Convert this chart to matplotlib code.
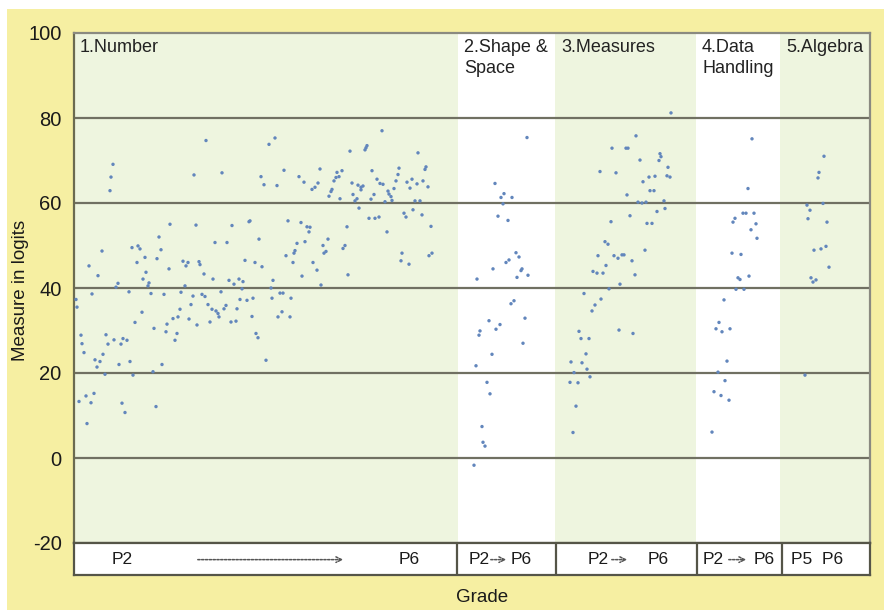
# Person measures by strand, P2 -> P6
import matplotlib.pyplot as plt
from matplotlib.patches import Rectangle

plt.rcParams['font.family'] = ['Liberation Sans', 'DejaVu Sans']

# Strand names and where each strand sits along the x axis
strands = ['1.Number', '2.Shape &\nSpace', '3.Measures', '4.Data\nHandling', '5.Algebra']
panel_edges = [0, 384, 481, 622, 706, 796]
box_edges = [0, 383, 482, 623, 708, 796]

# Number
number_x = [2, 3, 7, 8, 10, 15, 18, 21, 23, 24, 26, 28, 29, 31, 32, 34, 40, 42, 44, 45,
            47, 49, 53, 55, 56, 58, 59, 61, 63, 64, 66, 68, 69, 71, 72, 74, 75, 77, 79, 80,
            83, 85, 87, 88, 90, 92, 93, 95, 96, 99, 101, 103, 104, 106, 107, 109, 111, 112, 114, 115,
            117, 119, 122, 123, 125, 126, 128, 130, 131, 134, 136, 138, 139, 141, 142, 144, 145, 147, 150, 152,
            153, 155, 157, 158, 160, 162, 163, 165, 166, 168, 169, 171, 173, 175, 176, 178, 179, 181, 182, 184,
            185, 188, 192,
            5, 12, 13, 17, 20, 48, 51, 82,
            39, 37, 36, 132, 120, 148, 195, 187, 190, 201, 203, 210, 225,
            308, 276, 291, 292, 293, 344, 246, 230, 238, 241, 244, 255, 257, 258, 260, 262, 263, 265, 268, 266,
            278, 279, 281, 283, 284, 287, 289, 287, 285, 295, 297, 298, 300, 301, 303, 305, 306, 309, 311, 313,
            314, 315, 317, 318, 320, 322, 324, 325, 330, 332, 333, 336, 338, 339, 341, 343, 346, 348, 349, 351,
            352, 354, 357, 327, 328, 335, 355, 358,
            214, 227, 233, 236, 235, 231, 223, 221, 220, 212, 219, 228, 239, 243, 247, 249, 250, 252, 254, 269,
            271, 273, 274, 199, 197, 198, 206, 209, 217, 208, 204, 216]
number_y = [37.3, 35.5, 28.9, 26.9, 24.8, 45.2, 38.6, 23.1, 21.4, 42.9, 22.7, 48.7, 24.4, 19.7, 29.0, 26.8, 27.8, 40.2, 41.1, 22.0,
            26.8, 28.1, 27.7, 39.1, 22.7, 49.5, 19.5, 31.9, 46.0, 49.9, 49.2, 34.3, 42.1, 47.2, 43.7, 40.5, 41.2, 38.7, 20.3, 30.5,
            46.9, 52.0, 49.0, 22.0, 38.5, 29.7, 31.5, 44.5, 55.0, 32.8, 27.7, 29.3, 33.2, 35.0, 39.0, 46.3, 40.5, 45.2, 46.0, 32.7,
            36.1, 38.1, 54.8, 31.3, 46.2, 45.5, 38.5, 43.3, 38.0, 36.1, 32.0, 35.0, 42.1, 50.7, 34.6, 34.0, 33.2, 39.1, 35.1, 35.9,
            50.7, 41.8, 32.0, 54.7, 40.9, 32.2, 35.1, 42.1, 37.3, 39.8, 41.5, 46.5, 37.1, 55.6, 55.8, 33.3, 37.6, 46.0, 29.3, 28.3,
            51.5, 45.0, 23.0,
            13.3, 14.6, 8.1, 13.0, 15.2, 12.9, 10.7, 12.1,
            69.1, 66.1, 62.9, 74.7, 66.6, 67.1, 73.8, 66.2, 64.3, 75.3, 64.1, 67.7, 66.2,
            77.0, 72.2, 72.5, 73.0, 73.5, 71.8, 68.0, 64.9, 63.2, 63.7, 64.7, 61.6, 62.7, 63.2, 65.2, 66.0, 67.2, 66.2, 67.6, 61.0,
            64.7, 62.0, 60.5, 61.0, 64.2, 63.7, 64.0, 63.1, 58.8, 56.4, 60.9, 67.6, 62.0, 56.4, 65.6, 56.7, 64.6, 64.4, 60.3, 53.2,
            62.8, 62.1, 61.5, 60.6, 63.4, 65.2, 66.7, 68.2, 57.6, 56.7, 64.9, 63.5, 65.6, 58.4, 60.5, 64.5, 60.5, 57.2, 65.2, 67.9,
            68.5, 63.8, 54.5, 46.4, 48.2, 45.6, 47.6, 48.2,
            55.8, 55.4, 54.4, 54.3, 53.2, 50.9, 50.5, 48.8, 48.2, 47.6, 46.0, 42.8, 46.0, 44.2, 40.7, 50.0, 48.2, 48.6, 51.5, 49.3,
            50.0, 54.4, 43.1, 41.8, 40.0, 37.6, 38.8, 38.8, 37.6, 34.4, 33.2, 33.2]

# Shape & Space
shape_x = [421, 430, 427, 438, 429, 424, 434, 442, 445, 435, 432, 419, 448, 447, 454, 443, 403, 440,
           437, 451, 415, 426, 422, 406, 405, 449, 418, 402, 413, 416, 408, 409, 411, 400, 453]
shape_y = [64.6, 62.2, 61.3, 61.3, 59.8, 56.9, 55.9, 48.3, 47.3, 46.6, 46.0, 44.5, 44.5, 44.1, 43.0, 42.5, 42.1, 37.0,
           36.3, 32.9, 32.3, 31.4, 30.3, 29.9, 28.9, 27.0, 24.4, 21.7, 17.8, 15.1, 7.4, 3.7, 2.8, -1.7, 75.4]

# Measures
measures_x = [597, 562, 538, 552, 554, 566, 586, 587, 585, 594, 526, 542, 569, 575, 581, 593, 596, 576, 580, 553,
              590, 564, 568, 572, 591, 583, 556, 537, 573, 578, 531, 534, 571, 524, 540, 544, 548, 550, 558, 532,
              519, 523, 529, 561, 546, 535, 510, 527, 521, 518, 505, 545, 559, 507, 515, 512, 497, 508, 513, 500,
              516, 496, 504, 502, 499]
measures_y = [81.2, 75.8, 72.9, 72.9, 72.9, 70.1, 71.6, 70.9, 70.0, 68.4, 67.4, 67.1, 65.0, 66.1, 66.3, 66.4, 66.1, 62.9, 62.9, 61.9,
              60.5, 60.2, 60.0, 60.2, 58.7, 58.0, 57.0, 55.6, 55.2, 55.2, 50.9, 50.3, 48.9, 47.6, 47.6, 47.0, 47.8, 47.8, 46.4, 45.3,
              43.9, 43.5, 43.5, 43.1, 40.9, 39.8, 38.7, 37.4, 36.0, 34.6, 29.8, 30.1, 29.3, 28.1, 28.1, 24.5, 22.6, 22.4, 20.9, 20.1,
              19.1, 17.8, 17.7, 12.2, 6.0]

# Data Handling
data_x = [678, 674, 669, 672, 680, 661, 659, 682, 677, 683, 658, 667, 675, 664, 666, 662, 670, 650, 645, 642,
          648, 656, 653, 644, 651, 640, 647, 655, 638]
data_y = [75.1, 63.4, 57.6, 57.6, 57.6, 56.4, 55.5, 55.1, 53.7, 51.7, 48.2, 47.9, 42.8, 42.4, 42.0, 39.7, 39.7, 37.2, 31.9, 30.4,
          29.7, 30.4, 22.8, 20.2, 18.2, 15.6, 14.7, 13.6, 6.1]

# Algebra
algebra_x = [750, 745, 744, 733, 749, 736, 734, 753, 752, 747, 740, 755, 737, 742, 739, 731]
algebra_y = [71.0, 67.2, 65.9, 59.5, 59.9, 58.3, 56.3, 55.5, 49.8, 49.2, 48.9, 44.9, 42.4, 41.9, 41.4, 19.5]

yticks = [-20, 0, 20, 40, 60, 80, 100]

green = '#EEF5DF'
yellow = '#F6EFA2'
dot = '#6286BC'
grid = '#707062'
ink = '#1a1a1a'

fig = plt.figure(figsize=(8.84, 6.10), dpi=100)
fig.patch.set_facecolor('white')
fig.patches.append(Rectangle((7 / 884, 0), 1, 1 - 9 / 610, transform=fig.transFigure,
                             facecolor=yellow, edgecolor='none', zorder=-10))

ax = fig.add_axes([74 / 884, 1 - 543 / 610, 796 / 884, 510 / 610])
ax.set_facecolor('white')
ax.set_xlim(0, 796)
ax.set_ylim(-20, 100)

# Alternate green / white strand panels
for i in range(len(strands)):
    if i % 2 == 0:
        ax.axvspan(panel_edges[i], panel_edges[i + 1], color=green, zorder=0, lw=0)

for y in [0, 20, 40, 60, 80]:
    ax.axhline(y, color=grid, lw=1.6, zorder=1)

for xs, ys in [(number_x, number_y), (shape_x, shape_y), (measures_x, measures_y),
               (data_x, data_y), (algebra_x, algebra_y)]:
    ax.scatter(xs, ys, s=6, color=dot, edgecolors='none', zorder=3)

# Strand titles
for i, name in enumerate(strands):
    ax.text(panel_edges[i] + 6, 98.6, name, ha='left', va='top', fontsize=13,
            color='#222222', linespacing=1.3, zorder=4)

ax.set_xticks([])
ax.set_yticks(yticks)
ax.set_yticklabels([str(t) for t in yticks], fontsize=14.5, color=ink)
ax.tick_params(axis='y', length=0, pad=9)
ax.spines['left'].set_color('#6B6B50')
ax.spines['left'].set_linewidth(1.6)
for s in ['top', 'right']:
    ax.spines[s].set_color('#8A8A80')
    ax.spines[s].set_linewidth(1.6)
ax.spines['bottom'].set_color('#555548')
ax.spines['bottom'].set_linewidth(1.6)

fig.text(21 / 884, 1 - 290 / 610, 'Measure in logits', rotation=90, ha='center', va='center',
         fontsize=13.5, color=ink)

# Grade box underneath
bx = fig.add_axes([74 / 884, 1 - 575 / 610, 796 / 884, 32 / 610])
bx.set_xlim(0, 796)
bx.set_ylim(0, 1)
bx.set_facecolor('white')
bx.set_xticks([])
bx.set_yticks([])
for s in bx.spines.values():
    s.set_color('#555548')
    s.set_linewidth(1.6)
for e in box_edges[1:-1]:
    bx.axvline(e, color='#555548', lw=1.6)

arrow = dict(arrowstyle='->', linestyle=(0, (1.5, 1)), color='#555555', lw=1.1)
grade_labels = [
    ('P2', 48, 'P6', 335, 121, 272),
    ('P2', 405, 'P6', 447, 414, 435),
    ('P2', 524, 'P6', 584, 535, 556),
    ('P2', 639, 'P6', 690, 652, 675),
]
for left, lx, right, rx, a0, a1 in grade_labels:
    bx.text(lx, 0.48, left, ha='center', va='center', fontsize=12.5, color=ink)
    bx.text(rx, 0.48, right, ha='center', va='center', fontsize=12.5, color=ink)
    bx.annotate('', xy=(a1, 0.48), xytext=(a0, 0.48), arrowprops=arrow)
bx.text(743, 0.48, 'P5  P6', ha='center', va='center', fontsize=12.5, color=ink)

fig.text(482 / 884, 1 - 598 / 610, 'Grade', ha='center', va='center', fontsize=13.5, color=ink)

fig.savefig('out.png', dpi=100)
